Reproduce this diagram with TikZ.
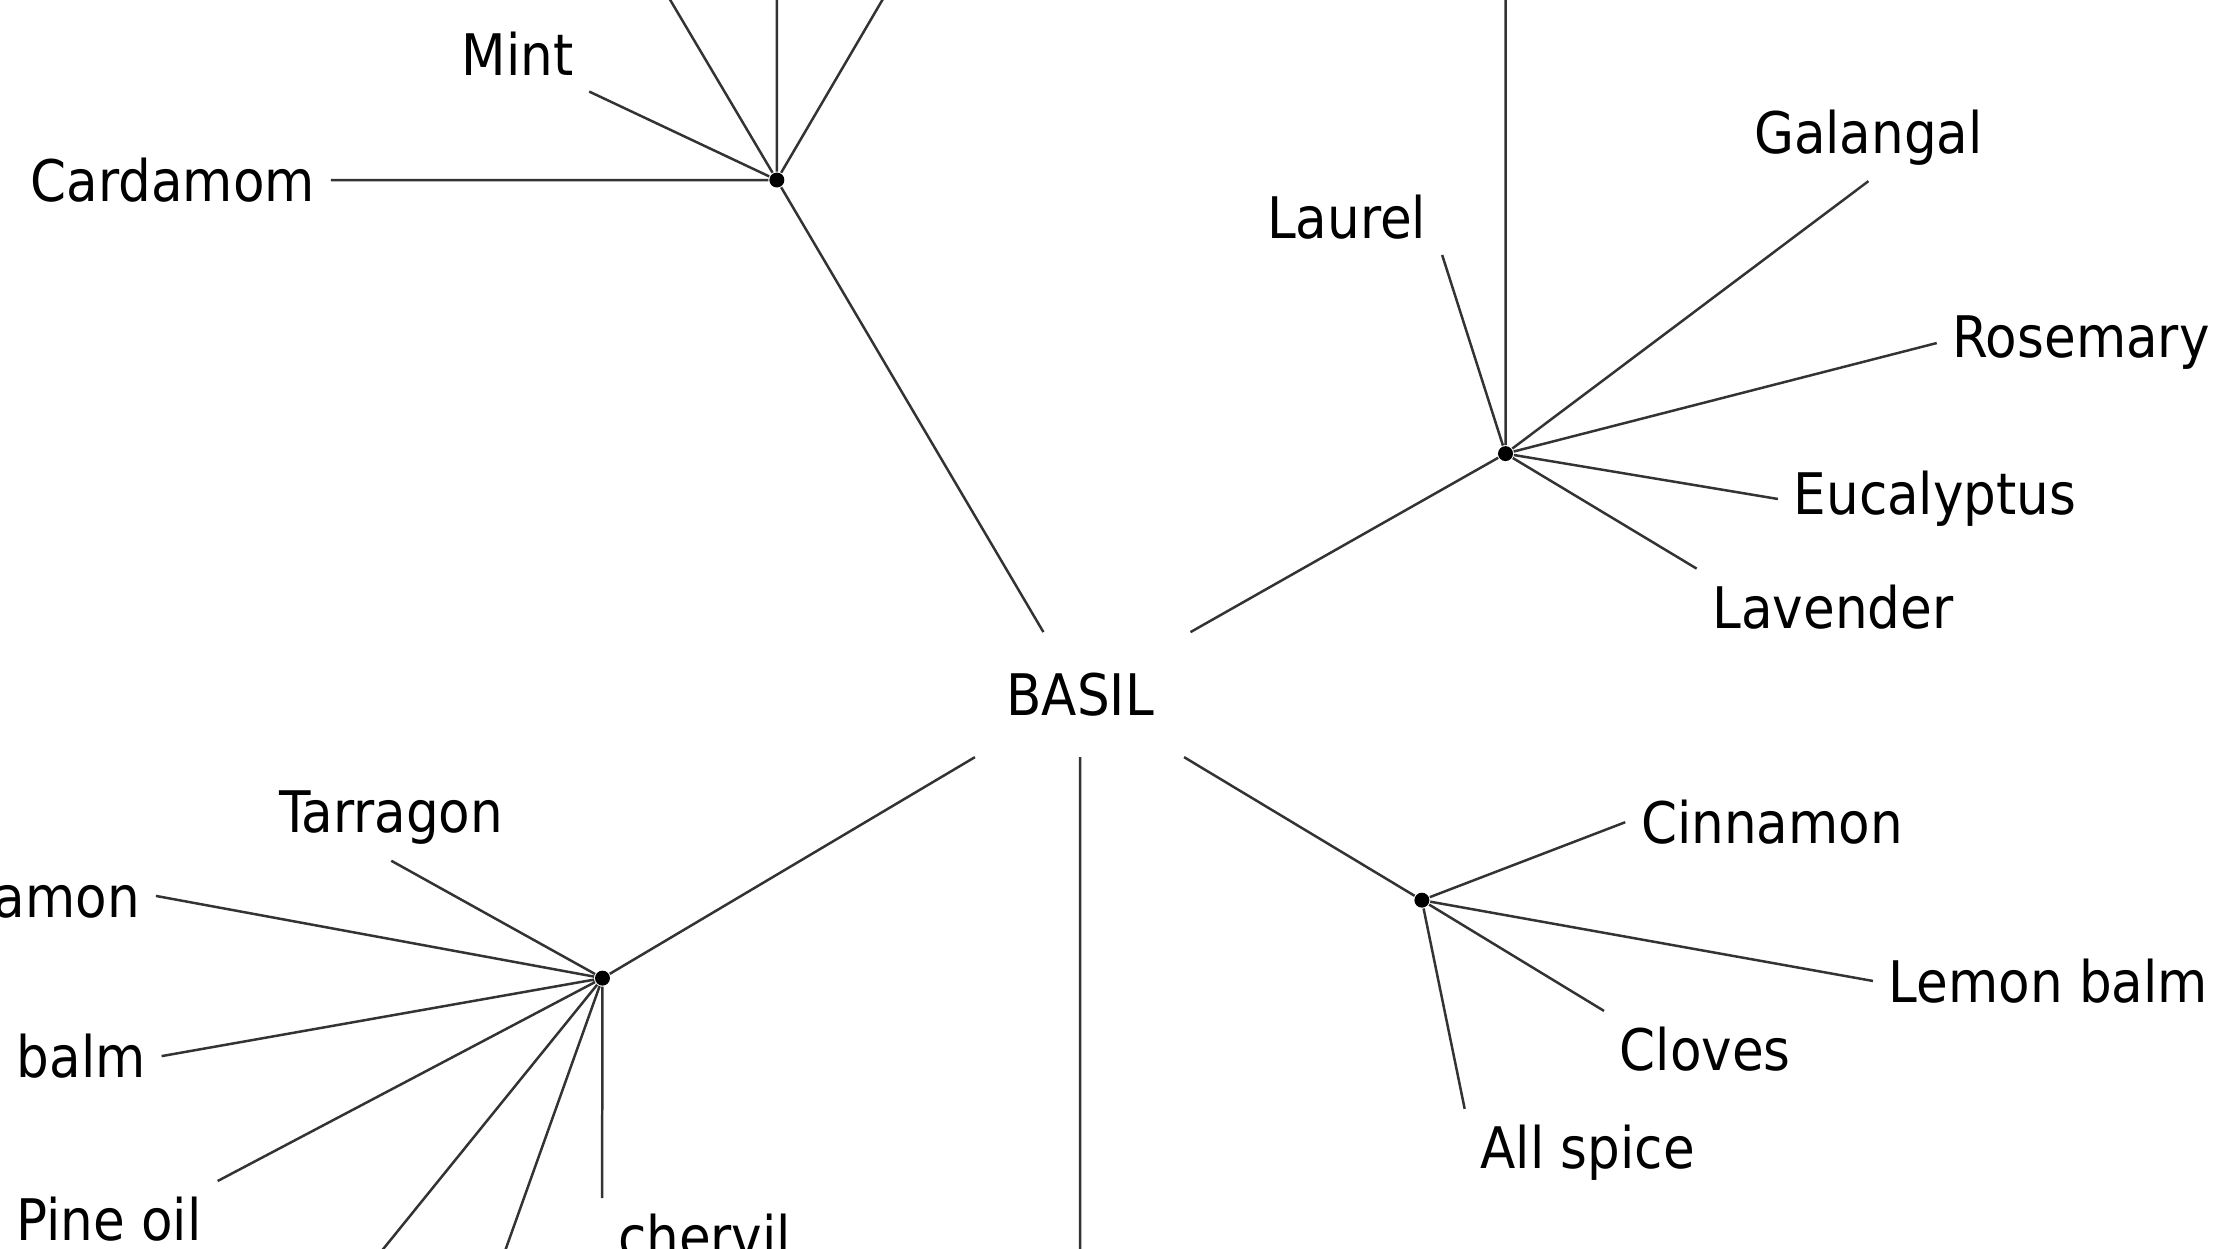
\documentclass[tikz,border=0pt]{standalone}
\usepackage{fontspec}
\setmainfont{DejaVu Sans Condensed}
\begin{document}
\begin{tikzpicture}[x=0.1mm,y=-0.1mm,
  herb/.style={font=\fontsize{11.5}{13}\selectfont, inner sep=3pt},
  hub/.style={circle, fill, inner sep=0pt, minimum size=3pt},
  branch/.style={draw, line width=0.5pt, black!80}]
  \useasboundingbox (0,0) rectangle (1566,881);
  \clip (0,0) rectangle (1566,881);

  \node[herb, inner sep=8pt] (basil) at (762,490) {BASIL};

  % hubs
  \node[hub] (h1) at (548,127) {};
  \node[hub] (h2) at (1062,320) {};
  \node[hub] (h3) at (425,690) {};
  \node[hub] (h4) at (1003,635) {};
  \coordinate (down) at (762,900);

  % leaves
  \node[herb] (mint) at (365,38) {Mint};
  \node[herb] (cardamom) at (122,127) {Cardamom};
  \coordinate (up1) at (455,-30);
  \coordinate (up2) at (548,-30);
  \coordinate (up3) at (640,-30);

  \node[herb] (laurel) at (950,153) {Laurel};
  \node[herb] (galangal) at (1318,97) {Galangal};
  \node[herb] (rosemary) at (1468,242) {Rosemary};
  \node[herb] (eucalyptus) at (1365,352) {Eucalyptus};
  \node[herb] (lavender) at (1293,428) {Lavender};
  \coordinate (up4) at (1062,-30);

  \node[herb] (tarragon) at (276,577) {Tarragon};
  \node[herb, anchor=east] (cinnamonl) at (110,632) {Cinnamon};
  \node[herb, anchor=east] (balml) at (114,745) {Lemon balm};
  \node[herb] (pineoil) at (77,860) {Pine oil};
  \node[herb] (chervil) at (497,872) {chervil};
  \coordinate (low1) at (255,900);
  \coordinate (low2) at (350,900);

  \node[herb] (cinnamon) at (1250,580) {Cinnamon};
  \node[herb] (lemonbalm) at (1445,692) {Lemon balm};
  \node[herb] (cloves) at (1203,740) {Cloves};
  \node[herb] (allspice) at (1120,813) {All spice};

  \path[branch] (basil) -- (h1) (basil) -- (h2) (basil) -- (h3) (basil) -- (h4)
    (basil) -- (down);
  \path[branch] (h1) -- (mint.south east) (h1) -- (cardamom.east)
    (h1) -- (up1) (h1) -- (up2) (h1) -- (up3);
  \path[branch] (h2) -- (laurel.south east) (h2) -- (galangal.south)
    (h2) -- (rosemary.west) (h2) -- (eucalyptus.west)
    (h2) -- (lavender.north west) (h2) -- (up4);
  \path[branch] (h3) -- (tarragon.south) (h3) -- (cinnamonl.east) (h3) -- (balml.east)
    (h3) -- (pineoil.north east) (h3) -- (chervil.north west)
    (h3) -- (low1) (h3) -- (low2);
  \path[branch] (h4) -- (cinnamon.west) (h4) -- (lemonbalm.west)
    (h4) -- (cloves.north west) (h4) -- (allspice.north west);
\end{tikzpicture}
\end{document}
